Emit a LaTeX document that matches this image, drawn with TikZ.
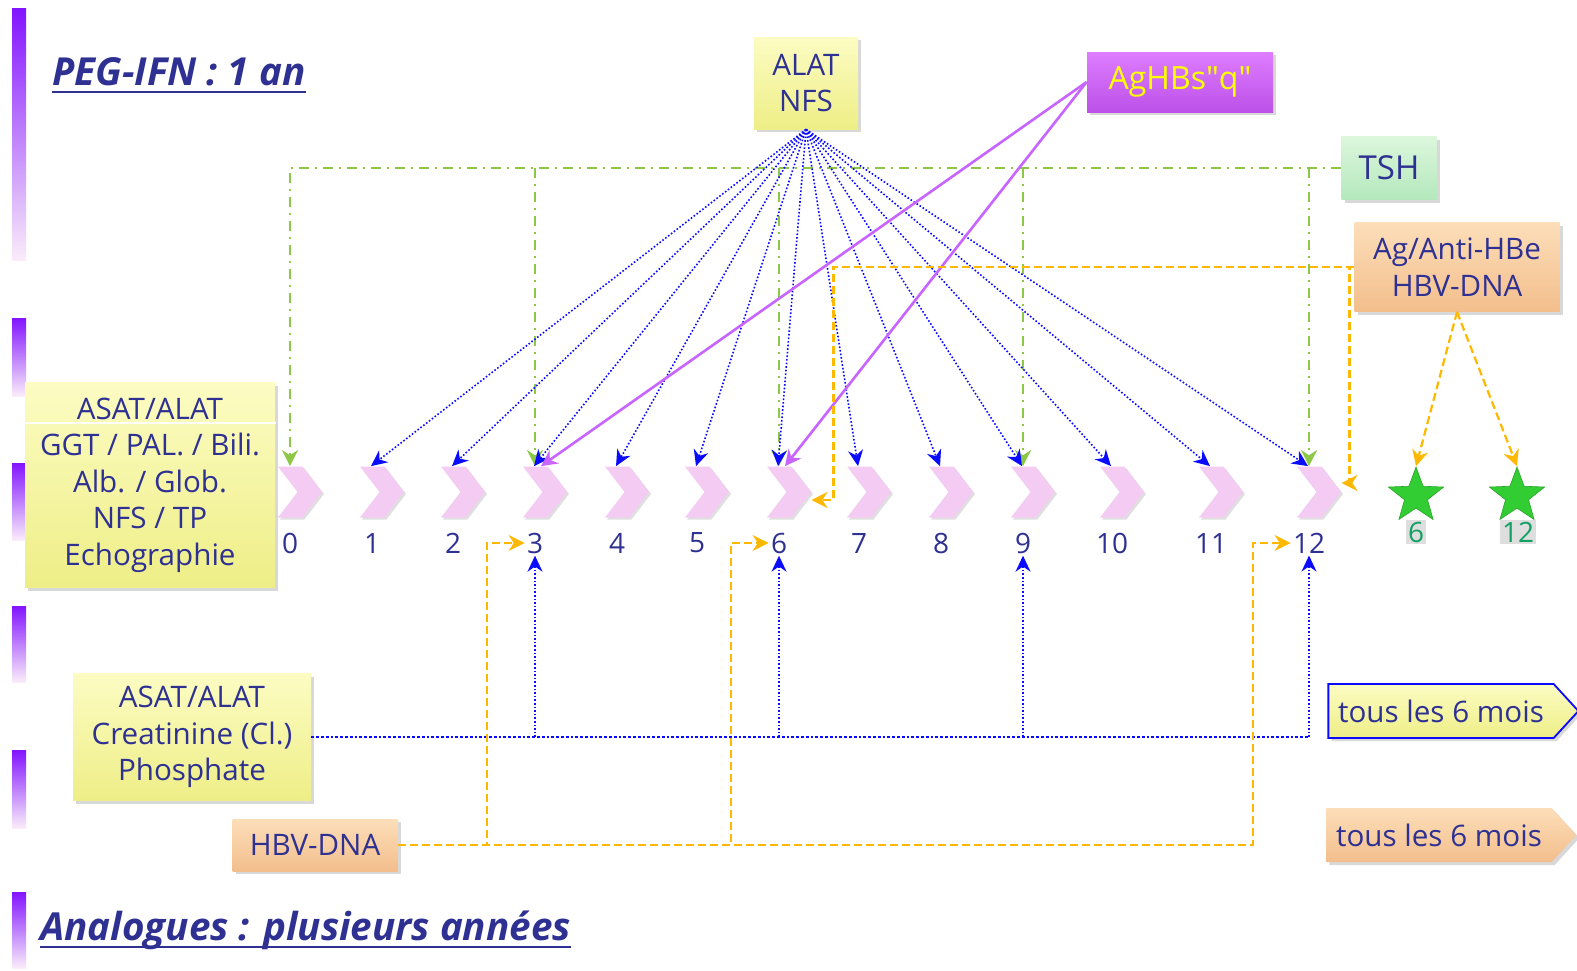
\documentclass[tikz,border=0pt]{standalone}
\usepackage{fontspec}
\setmainfont{Open Sans}
\usetikzlibrary{shapes.symbols,shapes.geometric,arrows.meta,shadows}

\definecolor{txtblue}{RGB}{46,49,146}
\definecolor{yelA}{RGB}{252,252,195}
\definecolor{yelB}{RGB}{238,238,135}
\definecolor{oraA}{RGB}{252,222,185}
\definecolor{oraB}{RGB}{243,190,140}
\definecolor{grnA}{RGB}{220,247,220}
\definecolor{grnB}{RGB}{180,232,188}
\definecolor{magA}{RGB}{222,125,255}
\definecolor{magB}{RGB}{188,80,232}
\definecolor{chevpink}{RGB}{243,203,243}
\definecolor{fanblue}{RGB}{10,10,255}
\definecolor{tshgreen}{RGB}{140,200,70}
\definecolor{hbsviolet}{RGB}{200,100,255}
\definecolor{hbeorange}{RGB}{255,184,0}
\definecolor{stargreen}{RGB}{50,205,50}
\definecolor{barA}{RGB}{130,20,255}
\definecolor{barB}{RGB}{125,190,255}
\definecolor{barC}{RGB}{250,236,250}

\newcommand\boxfont{\fontsize{14.8}{18.25}\selectfont}
\newcommand\titlefont{\fontsize{19.3}{21}\selectfont\bfseries\itshape}

\tikzset{
  box/.style={align=center, text=txtblue, font=\boxfont, inner sep=2pt,
    drop shadow={opacity=0.3, shadow xshift=1.5pt, shadow yshift=-1.5pt}},
  yelbox/.style={box, top color=yelA, bottom color=yelB},
  orabox/.style={box, top color=oraA, bottom color=oraB},
  chev/.style={signal, signal to=east, signal from=west, signal pointer angle=105,
    minimum width=22pt, minimum height=25.5pt, inner sep=0pt, fill=chevpink,
    drop shadow={opacity=0.25, shadow xshift=1pt, shadow yshift=-1pt}},
  num/.style={text=txtblue, font=\fontsize{14}{16}\selectfont, inner sep=1pt},
  fan/.style={fanblue, densely dotted, line width=0.8pt, -{Stealth[length=8pt,width=7.5pt]}},
  tshline/.style={tshgreen, line width=1.4pt, dash pattern=on 5pt off 3pt on 1pt off 3pt,
    -{Stealth[length=8pt,width=8pt]}},
  hbsline/.style={hbsviolet, line width=1.3pt, -{Stealth[length=8pt,width=8pt]}},
  hbeline/.style={hbeorange, line width=1.1pt, dash pattern=on 4pt off 2pt,
    -{Stealth[length=8pt,width=8pt]}},
  crealine/.style={fanblue, densely dotted, line width=1.4pt},
  creaup/.style={fanblue, densely dotted, line width=0.8pt, -{Stealth[length=8pt,width=7.5pt]}},
  starnode/.style={star, star points=5, star point ratio=2.4, minimum size=29pt,
    inner sep=0pt, fill=stargreen, draw=stargreen!80!black, line width=0.3pt},
  starnum/.style={fill=black!13, text={rgb,255:red,20;green,160;blue,100},
    font=\fontsize{14}{16}\selectfont, inner sep=1pt},
  title/.style={text=txtblue, font=\titlefont, inner sep=0pt, anchor=base west},
  ul/.style={txtblue, line width=1.4pt}
}

\begin{document}
\begin{tikzpicture}[x=0.5pt,y=-0.5pt]
  \fill[white] (0,0) rectangle (1577,970);
  \useasboundingbox (0,0) rectangle (1577,970);

  % side bars
  \foreach \a/\b in {8/260,318/396,463/540,606/682,750/828,892/968}
    \shade[top color=barA, middle color=barB, bottom color=barC] (12,\a) rectangle (26,\b);

  % titles
  \node[title] (peg) at (52,85) {PEG-IFN : 1 an};
  \draw[ul] ([yshift=-3.5pt]peg.base west) -- ([yshift=-3.5pt]peg.base east);
  \node[title] (ana) at (40,940) {Analogues : plusieurs années};
  \draw[ul] ([yshift=-3.5pt]ana.base west) -- ([yshift=-3.5pt]ana.base east);

  % months
  \foreach \x [count=\i from 0] in {290,372,453,535,617,697,779,859,941,1023,1112,1211,1309} {
    \node[chev] (c\i) at (\x+10,492) {};
    \node[num] (l\i) at (\x,543) {\i};
  }

  % boxes
  \node[yelbox, minimum width=52pt, minimum height=46pt] (alat) at (806,83) {ALAT\\NFS};
  \node[box, top color=magA, bottom color=magB, text={rgb,255:red,255;green,255;blue,0},
    font=\fontsize{16}{18}\selectfont, minimum width=93pt, minimum height=30pt] (aghbs) at (1180,82) {AgHBs\textquotedbl q\textquotedbl};
  \node[box, top color=grnA, bottom color=grnB, font=\fontsize{16.5}{18}\selectfont,
    minimum width=47.5pt, minimum height=31.5pt] (tsh) at (1389,168) {TSH};
  \node[orabox, minimum width=102.5pt, minimum height=44.5pt] (hbe) at (1457,267) {Ag/Anti-HBe\\HBV-DNA};
  \node[yelbox, minimum width=125pt, minimum height=102.5pt] (bilan) at (150,485)
    {ASAT/ALAT\\GGT / PAL. / Bili.\\Alb. / Glob.\\NFS / TP\\Echographie};
  \draw[white, line width=0.6pt] (25,423) -- (276,423);
  \node[yelbox, minimum width=119pt, minimum height=63.5pt] (crea) at (192,737)
    {ASAT/ALAT\\Creatinine (Cl.)\\Phosphate};
  \node[orabox, minimum width=82.5pt, minimum height=26pt] (hbv) at (315,845) {HBV-DNA};
  \node[yelbox, signal, signal to=east, signal pointer angle=95, draw=fanblue, line width=0.9pt,
    minimum width=125pt, minimum height=27pt] (tous1) at (1441,711) {tous les 6 mois};
  \node[orabox, signal, signal to=east, signal pointer angle=95,
    minimum width=125pt, minimum height=27pt] (tous2) at (1439,835) {tous les 6 mois};

  % stars
  \node[starnode] (s6) at (1416,496) {};
  \node[starnode] (s12) at (1517,496) {};
  \node[starnum] (n6) at (1416,532) {6};
  \node[starnum] (n12) at (1518,532) {12};

  % TSH
  \draw[tshline] (tsh.west) -| (l0 |- c0.north);
  \foreach \i in {3,6,9,12}
    \draw[tshline] (l\i |- tsh.west) -- (l\i |- c\i.north);

  % ALAT / NFS every month
  \foreach \i in {1,...,12}
    \draw[fan] (alat.south) -- ([xshift=-5.5pt]c\i.north);

  % AgHBs
  \foreach \i in {3,6}
    \draw[hbsline] (aghbs.west) -- ([xshift=-2pt]c\i.north);

  % Ag/Anti-HBe
  \draw[hbeline] (hbe.west) -| ([xshift=11pt,yshift=-4pt]c6.east) -- ([yshift=-4pt]c6.east);
  \draw[hbeline] (hbe.west) -| ([xshift=4pt,yshift=4.5pt]c12.east) -- ([yshift=4.5pt]c12.east);
  \draw[hbeline] (hbe.south) -- (s6.north);
  \draw[hbeline] (hbe.south) -- (s12.north);

  % analogues
  \draw[crealine] (crea.east) -- (crea.east -| l12);
  \foreach \i in {3,6,9,12}
    \draw[creaup] (crea.east -| l\i) -- (l\i.south);
  \foreach \i in {3,6,12}
    \draw[hbeline] (hbv.east) -| ([xshift=-19pt]l\i.west) -- (l\i.west);
\end{tikzpicture}
\end{document}
